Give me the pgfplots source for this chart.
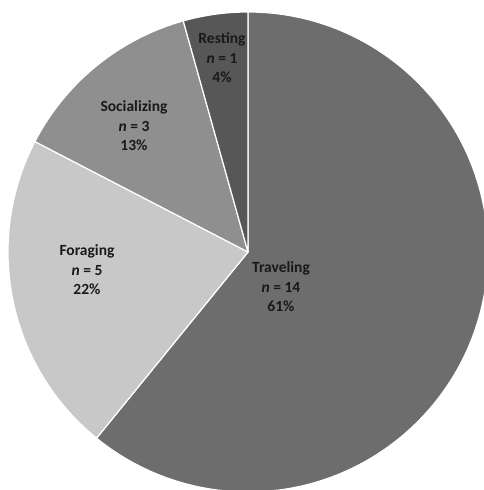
\documentclass[border=0pt]{standalone}
\usepackage{pgfplots}
\pgfplotsset{compat=1.18}
\usepackage{fontspec}
\setmainfont{Carlito}
\definecolor{trav}{HTML}{6D6D6D}
\definecolor{forag}{HTML}{C8C8C8}
\definecolor{social}{HTML}{8F8F8F}
\definecolor{rest}{HTML}{575757}
\begin{document}
\begin{tikzpicture}
\begin{axis}[
  hide axis, scale only axis,
  width=484pt, height=490pt,
  xmin=-248, xmax=236, ymin=-238, ymax=252,
  clip=true,
]
% slices: count / colour, drawn clockwise from 12 o'clock (total n = 23)
\def\total{23}
\def\start{90}
\foreach \n/\col in {14/trav, 5/forag, 3/social, 1/rest}{
  \pgfmathsetmacro{\sweep}{360*\n/\total}
  \pgfmathsetmacro{\stop}{\start-\sweep}
  \edef\temp{\noexpand\fill[\col, draw=white, line width=1.2pt, line join=round]
    (axis cs:0,0) -- (axis cs:{240*cos(\start)},{240*sin(\start)})
    arc[start angle=\start, end angle=\stop, radius=240pt] -- cycle;}
  \temp
  \global\let\start\stop
}
\tikzset{lab/.style={align=center, text=black!90,
  font=\bfseries\fontsize{15.5}{19.5}\selectfont}}
\node[lab] at (axis cs:33,-35) {Traveling\\\textit{n} = 14\\61\%};
\node[lab] at (axis cs:-161,-18) {Foraging\\\textit{n} = 5\\22\%};
\node[lab] at (axis cs:-114,126) {Socializing\\\textit{n} = 3\\13\%};
\node[lab] at (axis cs:-26,194) {Resting\\\textit{n} = 1\\4\%};
\end{axis}
\pgfresetboundingbox
\useasboundingbox (current axis.south west) rectangle (current axis.north east);
\end{tikzpicture}
\end{document}
